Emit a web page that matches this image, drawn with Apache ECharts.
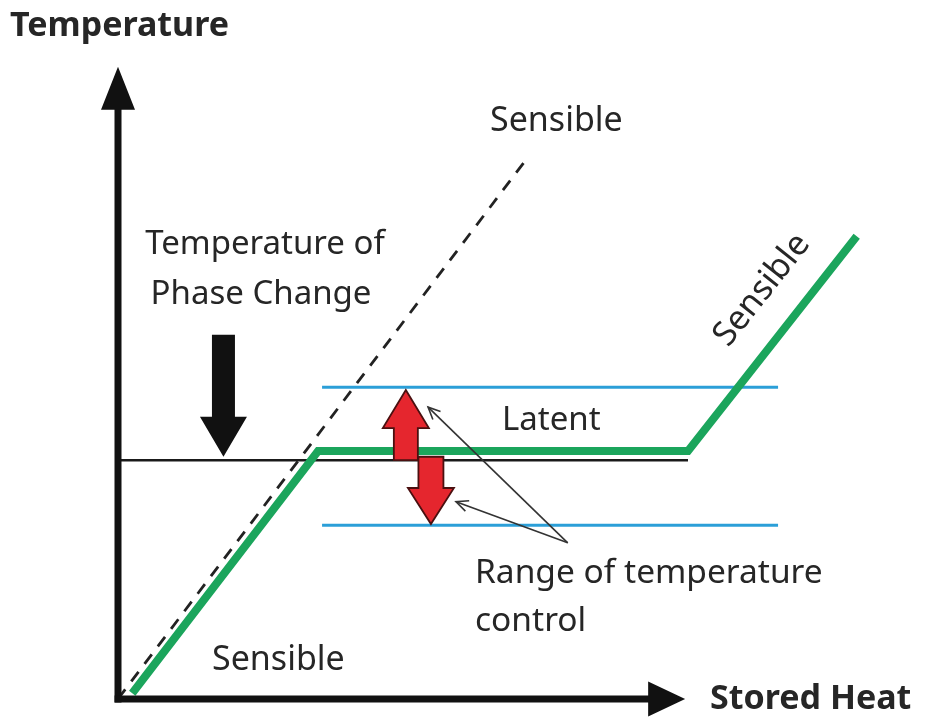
<!DOCTYPE html>
<html>
<head>
<meta charset="utf-8">
<title>Temperature vs Stored Heat</title>
<script src="https://cdn.jsdelivr.net/npm/echarts@6/dist/echarts.min.js"></script>
<style>
  html, body { margin: 0; padding: 0; background: #fff; }
  #main { width: 926px; height: 723px; }
</style>
</head>
<body>
<div id="main"></div>
<script>
// diagram values, in heat / temperature units
const greenPath = [[0.25, 0.1], [3.51, 4.35], [10, 4.35], [12.96, 8.12]];
const phaseLine = [[0, 4.19], [10, 4.19]];
const sensibleOnly = [[0, 0], [7.18, 9.49]];
const controlUpper = [[3.58, 5.47], [11.58, 5.47]];
const controlLower = [[3.58, 3.05], [11.58, 3.05]];

// arrows: [x1, y1, x2, y2] from tail to tip
const yAxisArrow = [[0, -0.06, 0, 11.09]];
const xAxisArrow = [[-0.06, 0, 9.95, 0]];
const phaseArrow = [[1.85, 6.39, 1.85, 4.25]];
const redUp = [[5.05, 4.19, 5.05, 5.42]];
const redDown = [[5.49, 4.25, 5.49, 3.07]];
const pointers = [[7.89, 2.74, 5.44, 5.12], [7.89, 2.74, 5.93, 3.46]];

var textColor = '#262626';
var font = '"Noto Sans", "Open Sans", sans-serif';

//实心箭头
function blockArrow(shaftW, headW, headL, fill, stroke) {
  return function (params, api) {
    var p1 = api.coord([api.value(0), api.value(1)]);
    var p2 = api.coord([api.value(2), api.value(3)]);
    var dx = p2[0] - p1[0], dy = p2[1] - p1[1];
    var len = Math.sqrt(dx * dx + dy * dy);
    var ux = dx / len, uy = dy / len;
    var nx = -uy, ny = ux;
    var bx = p2[0] - ux * headL, by = p2[1] - uy * headL;
    var s = shaftW / 2, h = headW / 2;
    var pts = [
      [p1[0] + nx * s, p1[1] + ny * s],
      [bx + nx * s, by + ny * s],
      [bx + nx * h, by + ny * h],
      [p2[0], p2[1]],
      [bx - nx * h, by - ny * h],
      [bx - nx * s, by - ny * s],
      [p1[0] - nx * s, p1[1] - ny * s]
    ];
    return {
      type: 'polygon',
      shape: { points: pts },
      style: { fill: fill, stroke: stroke || null, lineWidth: stroke ? 1.8 : 0 }
    };
  };
}

//细线箭头
function thinArrow(params, api) {
  var p1 = api.coord([api.value(0), api.value(1)]);
  var p2 = api.coord([api.value(2), api.value(3)]);
  var dx = p2[0] - p1[0], dy = p2[1] - p1[1];
  var len = Math.sqrt(dx * dx + dy * dy);
  var ux = dx / len, uy = dy / len;
  var nx = -uy, ny = ux;
  var hl = 12, hw = 5.5;
  var st = { stroke: '#333', lineWidth: 1.6, fill: null };
  return {
    type: 'group',
    children: [{
      type: 'line',
      shape: { x1: p1[0], y1: p1[1], x2: p2[0], y2: p2[1] },
      style: st
    }, {
      type: 'polyline',
      shape: {
        points: [
          [p2[0] - ux * hl + nx * hw, p2[1] - uy * hl + ny * hw],
          [p2[0], p2[1]],
          [p2[0] - ux * hl - nx * hw, p2[1] - uy * hl - ny * hw]
        ]
      },
      style: st
    }]
  };
}

function arrowSeries(data, render, z) {
  return {
    type: 'custom',
    data: data,
    z: z,
    encode: { x: [0, 2], y: [1, 3] },
    renderItem: render,
    silent: true
  };
}

function lineSeries(data, color, width, z, type) {
  return {
    type: 'line',
    data: data,
    z: z,
    showSymbol: false,
    symbol: 'none',
    silent: true,
    clip: false,
    lineStyle: { color: color, width: width, type: type || 'solid', cap: 'butt', join: 'miter' }
  };
}

function label(text, x, y, size, weight, align, rotation) {
  return {
    type: 'text',
    x: x,
    y: y,
    rotation: rotation || 0,
    style: {
      text: text,
      font: (weight || 'normal') + ' ' + size + 'px ' + font,
      fill: textColor,
      textAlign: align || 'left',
      textVerticalAlign: 'middle'
    },
    z: 100
  };
}

var chart = echarts.init(document.getElementById('main'), null, { renderer: 'canvas' });

var option = {
  backgroundColor: '#ffffff',
  animation: false,
  grid: { left: 118, right: 10, top: 72, bottom: 24 },
  xAxis: { type: 'value', min: 0, max: 14, show: false },
  yAxis: { type: 'value', min: 0, max: 11, show: false },
  graphic: [
    label('Temperature', 10, 26, 34, 'bold'),
    label('Stored Heat', 710, 699, 34, 'bold'),
    label('Sensible', 490, 121, 34),
    label('Temperature of', 265, 245, 33, 'normal', 'center'),
    label('Phase Change', 261, 295, 33, 'normal', 'center'),
    label('Latent', 502, 421, 33),
    label('Range of temperature', 475, 573, 33.5),
    label('control', 475, 621, 33.5),
    label('Sensible', 212, 660, 34),
    label('Sensible', 762, 290, 34, 'normal', 'center', 0.9)
  ],
  series: [
    lineSeries(controlUpper, '#2b9fd8', 3, 1),
    lineSeries(controlLower, '#2b9fd8', 3, 1),
    lineSeries(phaseLine, '#1a1a1a', 2.5, 2),
    lineSeries(sensibleOnly, '#222222', 2.8, 2, [12, 10]),
    lineSeries(greenPath, '#1ba55c', 8, 3),
    arrowSeries(yAxisArrow, blockArrow(7, 34, 43, '#111111'), 4),
    arrowSeries(xAxisArrow, blockArrow(7, 35, 37, '#111111'), 4),
    arrowSeries(phaseArrow, blockArrow(23, 47, 40, '#111111'), 4),
    arrowSeries(redUp, blockArrow(24, 46, 38, '#e5262e', '#4a1010'), 5),
    arrowSeries(redDown, blockArrow(25, 46, 36, '#e5262e', '#4a1010'), 5),
    arrowSeries(pointers, thinArrow, 6)
  ]
};
chart.setOption(option);
</script>
</body>
</html>
